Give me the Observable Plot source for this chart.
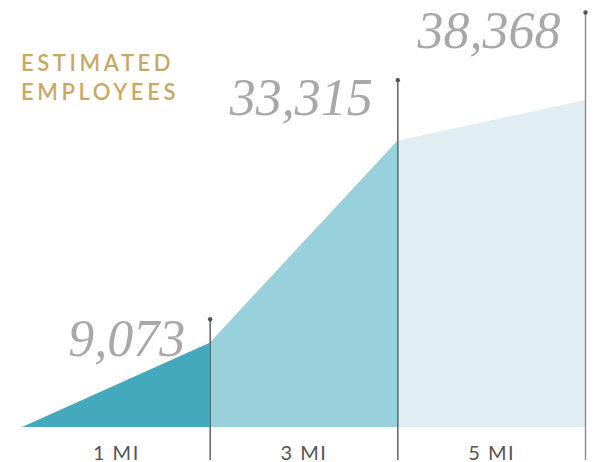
<!DOCTYPE html>
<html>
<head>
<meta charset="utf-8">
<script src="https://cdn.jsdelivr.net/npm/d3@7"></script>
<script src="https://cdn.jsdelivr.net/npm/@observablehq/plot@0.6"></script>
<style>
  html, body { margin: 0; padding: 0; background: #fff; }
  #wrap { position: relative; width: 594px; height: 462px; overflow: hidden; }
  #title {
    position: absolute; left: 21px; top: 48px;
    font-family: Lato, "Open Sans", sans-serif; font-size: 22px; font-weight: 600;
    letter-spacing: 3.6px; line-height: 29px; color: #c9a866;
  }
</style>
</head>
<body>
<div id="wrap">
  <div id="title">ESTIMATED<br>EMPLOYEES</div>
</div>
<script>
// Data
const radii = ["1 MI", "3 MI", "5 MI"];
const employees = [9073, 33315, 38368];
const valueLabels = ["9,073", "33,315", "38,368"];
const segmentColors = ["#45a9bd", "#98d0dc", "#e0eef4"];

// Style offsets (pixels) for each value label / marker line
const labelDy = [13, -26, -53];
const ruleTop = [-24, -61, -88];

// Build area segments: each segment spans from previous distance to the next
const start = [0, ...employees];
const segments = [];
radii.forEach((r, i) => {
  segments.push({seg: r, x: i, y: start[i]});
  segments.push({seg: r, x: i + 1, y: start[i + 1]});
});
const points = employees.map((v, i) => ({x: i + 1, y: v, label: valueLabels[i], radius: radii[i]}));

const marks = [
  Plot.areaY(segments, {x: "x", y1: () => 0, y2: "y", z: "seg", fill: "seg"}),
  Plot.text(radii.map((r, i) => ({x: i + 0.5, r})), {
    x: "x", y: () => 0, text: "r", dy: 18.5, lineAnchor: "top",
    fontFamily: "Lato, 'Open Sans', sans-serif", fontSize: 20, fill: "#555"
  })
];
points.forEach((p, i) => {
  marks.push(Plot.ruleX([p], {
    x: "x", y1: "y", y2: () => 0,
    insetTop: ruleTop[i], insetBottom: -33,
    stroke: i === 2 ? "#8a8a8a" : "#555", strokeWidth: 1.4
  }));
  marks.push(Plot.dot([p], {x: "x", y: "y", dy: ruleTop[i], r: 2.2, fill: "#555", stroke: null}));
  marks.push(Plot.text([p], {
    x: "x", y: "y", text: "label", dx: -25, dy: labelDy[i],
    textAnchor: "end", lineAnchor: "bottom",
    fontFamily: "'Liberation Serif', serif", fontStyle: "italic", fontSize: 52,
    fill: "#aba7a9"
  }));
});

const chart = Plot.plot({
  width: 594,
  height: 462,
  marginTop: 100,
  marginBottom: 35,
  marginLeft: 22,
  marginRight: 9,
  x: {domain: [0, 3], axis: null},
  y: {type: "pow", exponent: 0.94, domain: [0, d3.max(employees)], axis: null},
  color: {domain: radii, range: segmentColors},
  style: {background: "transparent", overflow: "visible"},
  marks
});
d3.select(chart).selectAll("text").filter(function() { return /MI$/.test(this.textContent); })
  .style("letter-spacing", "1.5px");
chart.style.position = "absolute";
chart.style.left = "0";
chart.style.top = "0";
document.getElementById("wrap").prepend(chart);
</script>
</body>
</html>
